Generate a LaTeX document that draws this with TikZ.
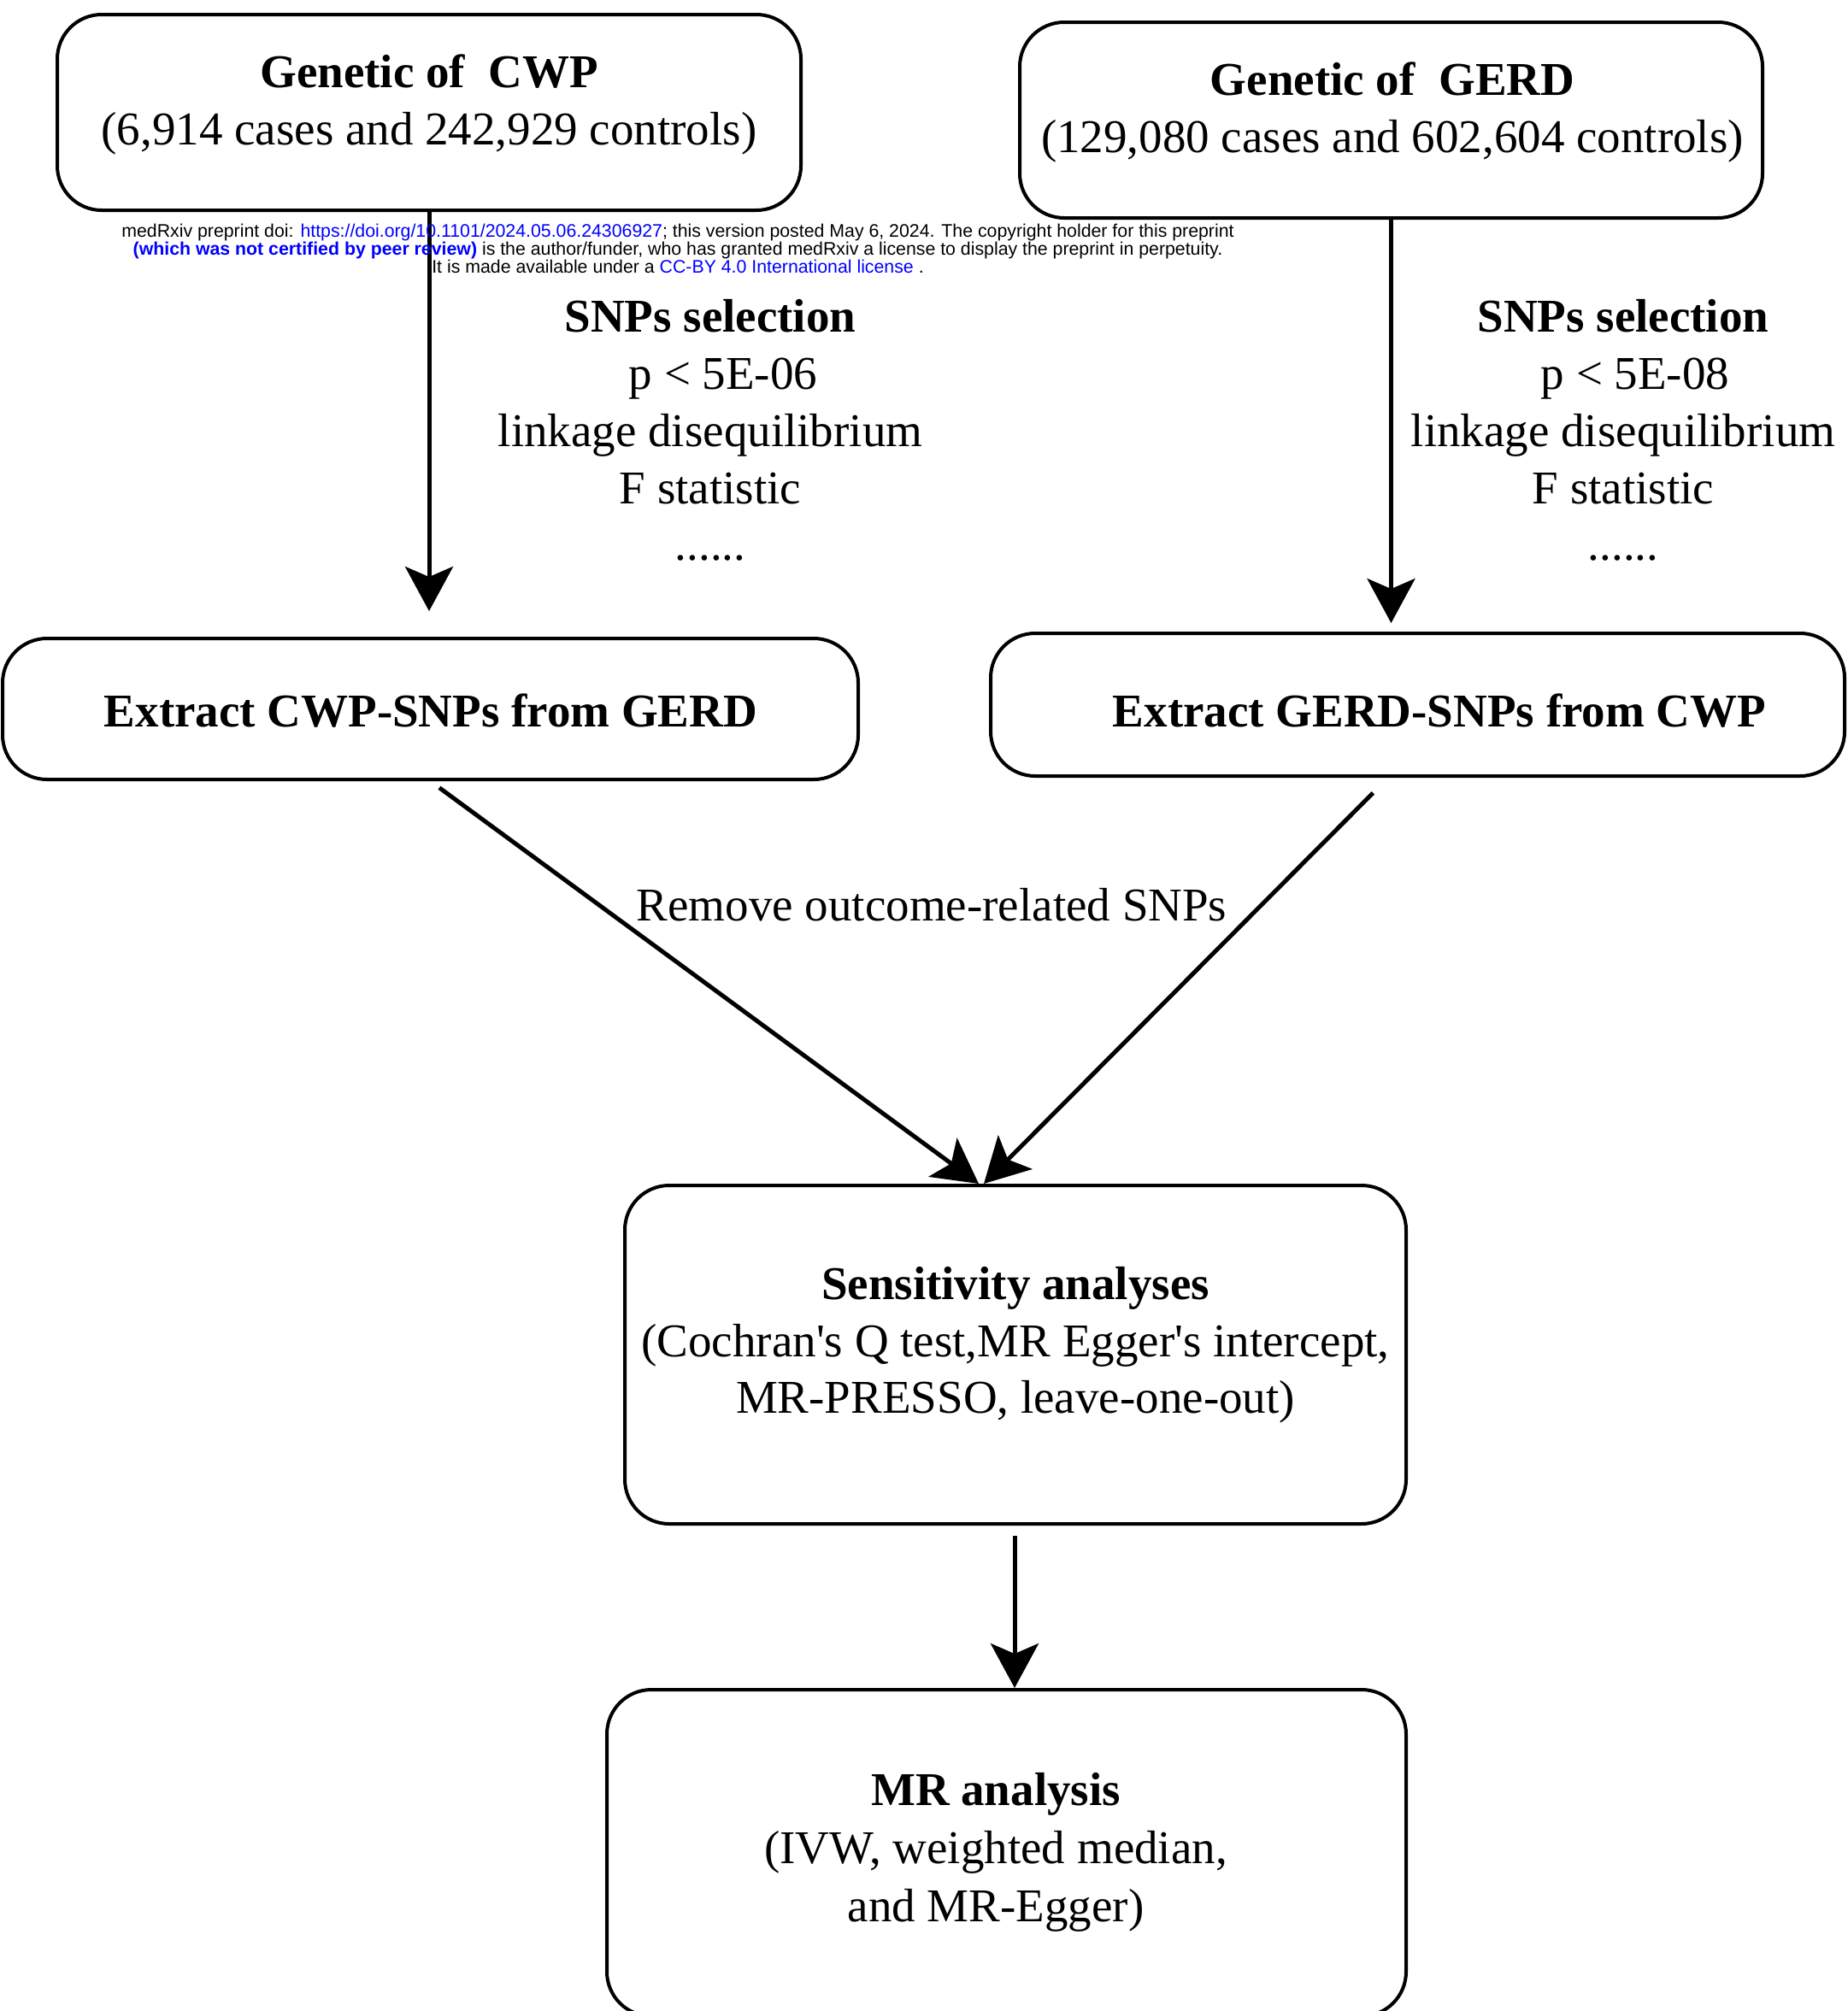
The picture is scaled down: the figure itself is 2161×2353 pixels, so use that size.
\documentclass[tikz,border=0pt]{standalone}
\usepackage{fontspec}
\setmainfont{Liberation Serif}[Ligatures=TeXOff]
\newfontfamily\hdrfont{Liberation Sans}
\usetikzlibrary{arrows.meta}
\definecolor{linkblue}{RGB}{0,0,255}
\begin{document}
\begin{tikzpicture}[x=1pt,y=-1pt,
  box/.style={draw=black, line width=4pt, rounded corners=52pt, inner sep=0pt},
  txt/.style={anchor=base, inner sep=0pt, font=\fontsize{55pt}{67pt}\selectfont},
  btxt/.style={anchor=base, inner sep=0pt, font=\fontsize{55pt}{67pt}\selectfont\bfseries},
  hdr/.style={anchor=base, inner sep=0pt, font=\hdrfont\fontsize{21.3pt}{23pt}\selectfont},
  arr/.style={-{Stealth[length=52pt,width=56pt,inset=12pt]}, line width=5pt}]
\useasboundingbox (0,0) rectangle (2161,2353);
\clip (0,0) rectangle (2161,2353);
\fill[white] (0,0) rectangle (2161,2353);

% boxes
\node[box, minimum width=870pt, minimum height=229pt] (cwp) at (502,131.5) {};
\node[box, minimum width=869pt, minimum height=229pt] (gerd) at (1627.5,140.5) {};
\node[box, minimum width=1001pt, minimum height=165pt] (ecwp) at (503.5,829.5) {};
\node[box, minimum width=999pt, minimum height=167pt] (egerd) at (1658.5,824.5) {};
\node[box, minimum width=914pt, minimum height=396pt] (sens) at (1188,1585) {};
\node[box, minimum width=935pt, minimum height=382pt] (mr) at (1177.5,2168) {};

% box texts
\node[btxt] (t1a) at (502,102) {Genetic of\ \ CWP};
\node[txt] (t1b) at (502,169) {(6,914 cases and 242,929 controls)};
\node[btxt] (t2a) at (1629,111) {Genetic of\ \ GERD};
\node[txt] (t2b) at (1629,178) {(129,080 cases and 602,604 controls)};
\node[btxt] (t3) at (504,850) {Extract CWP-SNPs from GERD};
\node[btxt] (t4) at (1684,850) {Extract GERD-SNPs from CWP};
\node[btxt] (t5a) at (1188,1520) {Sensitivity analyses};
\node[txt] (t5b) at (1188,1587) {(Cochran's Q test,MR Egger's intercept,};
\node[txt] (t5c) at (1188,1653) {MR-PRESSO, leave-one-out)};
\node[btxt] (t6a) at (1165,2112) {MR analysis};
\node[txt] (t6b) at (1165,2180) {(IVW, weighted median,};
\node[txt] (t6c) at (1165,2248) {and MR-Egger)};

% selection texts
\node[btxt] (s1a) at (831,388) {SNPs selection};
\node[txt] (s1b) at (846,455) {p < 5E-06};
\node[txt] (s1c) at (831,522) {linkage disequilibrium};
\node[txt] (s1d) at (831,589) {F statistic};
\node[txt] (s1e) at (831,655) {......};
\node[btxt] (s2a) at (1899,388) {SNPs selection};
\node[txt] (s2b) at (1913,455) {p < 5E-08};
\node[txt] (s2c) at (1899,522) {linkage disequilibrium};
\node[txt] (s2d) at (1899,589) {F statistic};
\node[txt] (s2e) at (1899,655) {......};

% connectors
\draw[arr, shorten >=30pt] (cwp.south) -- (cwp.south |- ecwp.north);
\draw[arr, shorten >=10pt] (gerd.south) -- (gerd.south |- egerd.north);
\draw[arr, shorten <=13pt] (ecwp.south) -- ([xshift=-43pt]sens.north);
\draw[arr, shorten <=25pt] ([xshift=-34.5pt]egerd.south) -- ([xshift=-37pt]sens.north);
\draw[arr, shorten <=12pt] ([xshift=-1pt]sens.south) -- ([xshift=-1pt]sens.south |- mr.north);

\node[txt] (rm) at (1090,1077) {Remove outcome-related SNPs};

% header
\node[hdr] (h1) at (793,277) {medRxiv preprint doi: \textcolor{linkblue}{https://doi.org/10.1101/2024.05.06.24306927}; this version posted May 6, 2024. The copyright holder for this preprint};
\node[hdr] (h2) at (793,298) {\textcolor{linkblue}{\bfseries (which was not certified by peer review)} is the author/funder, who has granted medRxiv a license to display the preprint in perpetuity.};
\node[hdr] (h3) at (793,319) {It is made available under a \textcolor{linkblue}{CC-BY 4.0 International license} .};
\end{tikzpicture}
\end{document}
